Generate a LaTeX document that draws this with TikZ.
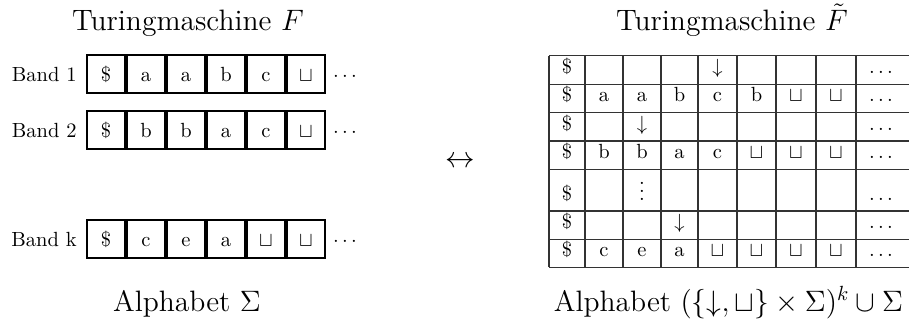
\documentclass[tikz,border=0pt]{standalone}
\usepackage{amssymb}
\begin{document}
\begin{tikzpicture}[x=0.4878pt,y=-0.4878pt,
  tapecell/.style={draw,line width=1.1pt,minimum size=18.54pt,inner sep=0pt,
    text height=7.32pt,text depth=0pt,anchor=center},
  bandlbl/.style={anchor=base east,inner sep=0pt},
  more/.style={anchor=base,inner sep=0pt},
  tabtext/.style={anchor=base,inner sep=0pt},
  tabline/.style={draw=black!80,line width=0.55pt},
  title/.style={anchor=base,inner sep=0pt,font=\Large},
  alph/.style={anchor=base,inner sep=0pt,font=\Large}]
\useasboundingbox (0,0) rectangle (909,322);

% ---------- left: Turingmaschine F ----------
\node[title] (titleL) at (188,30.7) {Turingmaschine $F$};

\node[bandlbl] (b1) at (77,81.7) {Band 1};
\node[tapecell] (b1c1) at (106,74) {\$};
\node[tapecell] (b1c2) at (146,74) {a};
\node[tapecell] (b1c3) at (186,74) {a};
\node[tapecell] (b1c4) at (226,74) {b};
\node[tapecell] (b1c5) at (266,74) {c};
\node[tapecell] (b1c6) at (306,74) {$\sqcup$};
\node[more] (b1d) at (345,81.7) {$\cdots$};

\node[bandlbl] (b2) at (77,137.5) {Band 2};
\node[tapecell] (b2c1) at (106,130) {\$};
\node[tapecell] (b2c2) at (146,130) {b};
\node[tapecell] (b2c3) at (186,130) {b};
\node[tapecell] (b2c4) at (226,130) {a};
\node[tapecell] (b2c5) at (266,130) {c};
\node[tapecell] (b2c6) at (306,130) {$\sqcup$};
\node[more] (b2d) at (345,137.5) {$\cdots$};

\node[bandlbl] (bk) at (77,246.5) {Band k};
\node[tapecell] (bkc1) at (106,239) {\$};
\node[tapecell] (bkc2) at (146,239) {c};
\node[tapecell] (bkc3) at (186,239) {e};
\node[tapecell] (bkc4) at (226,239) {a};
\node[tapecell] (bkc5) at (266,239) {$\sqcup$};
\node[tapecell] (bkc6) at (306,239) {$\sqcup$};
\node[more] (bkd) at (345,246.5) {$\cdots$};

\node[alph] (alphL) at (187,311.7) {Alphabet $\Sigma$};

% ---------- middle ----------
\node[inner sep=0pt,font=\Large] (equiv) at (460.5,161.7) {$\leftrightarrow$};

% ---------- right: Turingmaschine F~ ----------
\node[title] (titleR) at (732,31) {Turingmaschine $\tilde{F}$};

\foreach \y in {55.7,84.3,112.7,141,169.3,211,239.3,267.3}
  \draw[tabline] (549,\y) -- (909,\y);
\foreach \x in {549,585,623,661,698,737,776,816,856}
  \draw[tabline] (\x,55.7) -- (\x,267.3);

% row 1
\node[tabtext] (r1c1) at (567,73.5) {\$};
\node[tabtext] (r1c5) at (717.5,73.5) {$\downarrow$};
\node[tabtext] (r1c9) at (881,73.5) {$\dots$};
% row 2
\node[tabtext] (r2c1) at (567,101.8) {\$};
\node[tabtext] (r2c2) at (604,101.8) {a};
\node[tabtext] (r2c3) at (642,101.8) {a};
\node[tabtext] (r2c4) at (679.5,101.8) {b};
\node[tabtext] (r2c5) at (717.5,101.8) {c};
\node[tabtext] (r2c6) at (756.5,101.8) {b};
\node[tabtext] (r2c7) at (796,101.8) {$\sqcup$};
\node[tabtext] (r2c8) at (836,101.8) {$\sqcup$};
\node[tabtext] (r2c9) at (881,101.8) {$\dots$};
% row 3
\node[tabtext] (r3c1) at (567,130.2) {\$};
\node[tabtext] (r3c3) at (642,130.2) {$\downarrow$};
\node[tabtext] (r3c9) at (881,130.2) {$\dots$};
% row 4
\node[tabtext] (r4c1) at (567,158.5) {\$};
\node[tabtext] (r4c2) at (604,158.5) {b};
\node[tabtext] (r4c3) at (642,158.5) {b};
\node[tabtext] (r4c4) at (679.5,158.5) {a};
\node[tabtext] (r4c5) at (717.5,158.5) {c};
\node[tabtext] (r4c6) at (756.5,158.5) {$\sqcup$};
\node[tabtext] (r4c7) at (796,158.5) {$\sqcup$};
\node[tabtext] (r4c8) at (836,158.5) {$\sqcup$};
\node[tabtext] (r4c9) at (881,158.5) {$\dots$};
% row 5
\node[tabtext] (r5c1) at (567,200.5) {\$};
\node[tabtext] (r5c3) at (642,200.5) {$\vdots$};
\node[tabtext] (r5c9) at (881,200.5) {$\dots$};
% row 6
\node[tabtext] (r6c1) at (567,228.5) {\$};
\node[tabtext] (r6c4) at (679.5,228.5) {$\downarrow$};
\node[tabtext] (r6c9) at (881,228.5) {$\dots$};
% row 7
\node[tabtext] (r7c1) at (567,256.5) {\$};
\node[tabtext] (r7c2) at (604,256.5) {c};
\node[tabtext] (r7c3) at (642,256.5) {e};
\node[tabtext] (r7c4) at (679.5,256.5) {a};
\node[tabtext] (r7c5) at (717.5,256.5) {$\sqcup$};
\node[tabtext] (r7c6) at (756.5,256.5) {$\sqcup$};
\node[tabtext] (r7c7) at (796,256.5) {$\sqcup$};
\node[tabtext] (r7c8) at (836,256.5) {$\sqcup$};
\node[tabtext] (r7c9) at (881,256.5) {$\dots$};

\node[alph] (alphR) at (728.5,311.7) {Alphabet $(\{\downarrow,\sqcup\}\times\Sigma)^k\cup\Sigma$};
\end{tikzpicture}
\end{document}
